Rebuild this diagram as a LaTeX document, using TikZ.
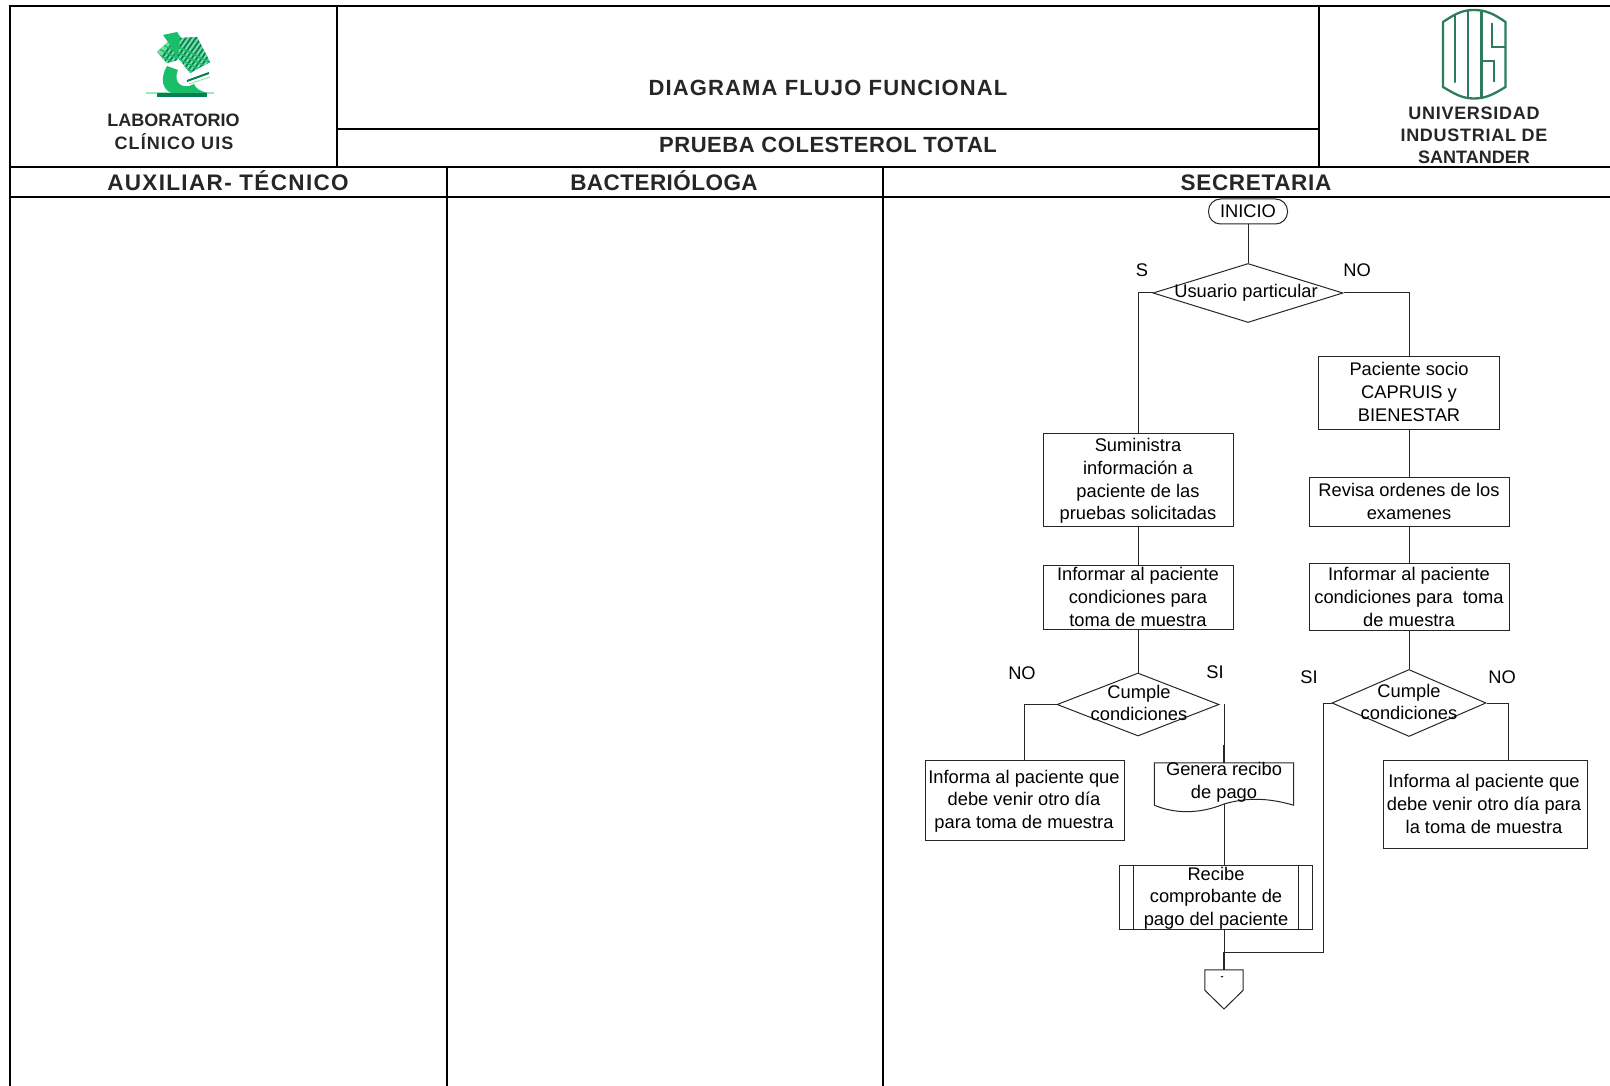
\documentclass[tikz,border=0pt]{standalone}
\usepackage{fontspec}
\setmainfont{Liberation Sans}
\usetikzlibrary{shapes.geometric}
\definecolor{uisgreen}{RGB}{46,125,90}
\definecolor{labdark}{RGB}{10,125,85}
\definecolor{labmid}{RGB}{25,190,105}
\definecolor{lablight}{RGB}{150,235,185}
\tikzset{
  frame/.style={line width=2pt,black},
  lane/.style={line width=1.6pt,black},
  flow/.style={line width=1pt,black!85},
  flowbox/.style={draw=black!85,line width=1pt,rectangle,inner sep=0pt},
  txt/.style={align=center,inner sep=0pt,font=\fontsize{18.3}{22.6}\selectfont,text=black},
  titletxt/.style={inner sep=0pt,anchor=base,font=\fontsize{22}{26}\selectfont\bfseries,text=black!85},
  lanetxt/.style={inner sep=0pt,anchor=base,font=\fontsize{22.5}{26}\selectfont\bfseries,text=black!85},
  smalltxt/.style={inner sep=0pt,anchor=base,align=center,font=\fontsize{18}{22}\selectfont\bfseries,text=black!85},
  decision/.style={diamond,draw=black!85,line width=1pt,inner sep=0pt,aspect=3},
}
\begin{document}
\begin{tikzpicture}[x=1pt,y=-1pt]
\useasboundingbox (0,0) rectangle (1610,1086);
% frame
\coordinate (tl) at (10,6); \coordinate (tr) at (1610,6);
\coordinate (hl) at (10,167); \coordinate (hr) at (1610,167);
\coordinate (ll) at (10,197); \coordinate (lr) at (1610,197);
\draw[frame] (10,1086) -- (tl) -- (tr);
\draw[frame] (hl) -- (hr);
\draw[frame] (ll) -- (lr);
\draw[frame] (337,6) -- (337,167);
\draw[frame] (1319,6) -- (1319,167);
\draw[frame] (337,129) -- (1319,129);
\draw[lane] (447,167) -- (447,1086);
\draw[lane] (883,167) -- (883,1086);
% titles
\node[titletxt] (t1) at (828,96) {\addfontfeature{LetterSpace=5.2}DIAGRAMA FLUJO FUNCIONAL};
\node[titletxt] (t2) at (828,153) {\addfontfeature{LetterSpace=2.5}PRUEBA COLESTEROL TOTAL};
\node[lanetxt] (l1) at (228,191) {\addfontfeature{LetterSpace=6}AUXILIAR- TÉCNICO};
\node[lanetxt] (l2) at (664,191) {\addfontfeature{LetterSpace=2}BACTERIÓLOGA};
\node[lanetxt] (l3) at (1256,191) {\addfontfeature{LetterSpace=3}SECRETARIA};
\node[smalltxt] (lab1) at (173.5,126.5) {LABORATORIO};
\node[smalltxt] (lab2) at (174,149.5) {\addfontfeature{LetterSpace=6}CLÍNICO UIS};
\node[smalltxt] (u1) at (1474,119.5) {\addfontfeature{LetterSpace=4}UNIVERSIDAD};
\node[smalltxt] (u2) at (1474,141.5) {\addfontfeature{LetterSpace=4}INDUSTRIAL DE};
\node[smalltxt] (u3) at (1474,163.5) {SANTANDER};
% microscope logo
\fill[lablight] (146,92) rectangle (214,94);
\fill[labdark] (157,93) rectangle (207,97);
\fill[labmid] (167,66) .. controls (160,78) and (162,90) .. (172,93)
  -- (208,93) .. controls (200,91) and (196,89) .. (194,84)
  .. controls (184,90) and (172,84) .. (178,70) -- cycle;
\fill[labmid] (163,35) -- (177,32) -- (181,38) -- (197,37) -- (210,62) -- (190,73) -- (178,58) -- (167,63) -- (157,52) -- (168,42) -- cycle;
\begin{scope}
\clip (157,52) -- (168,42) -- (178,60) -- (167,63) -- cycle
      (180,38) -- (197,37) -- (210,62) -- (190,73) -- (178,57) -- cycle;
\fill[lablight!70!labmid] (150,30) rectangle (215,80);
\foreach \k in {0,5,...,50}{
  \draw[labdark,line width=1.7pt] (150+\k,75) -- (185+\k,25);
}
\foreach \k in {0,6,...,54}{
  \draw[labmid,line width=1.5pt] (145,30+\k) -- (215,65+\k);
}
\end{scope}
\draw[labdark,line width=2pt] (187,81) -- (209,73);
\draw[lablight,line width=1pt] (189,84) -- (210,77);
% UIS logo
\begin{scope}[uisgreen,line width=2.3pt]
\draw (1443,22) .. controls (1455,14) and (1462,10) .. (1474,10) .. controls (1486,10) and (1494,14) .. (1505.5,22)
  -- (1505.5,87) .. controls (1494,94) and (1486,98.5) .. (1474,98.5) .. controls (1462,98.5) and (1455,94) .. (1443,87) -- cycle;
\draw[line cap=round] (1455,15) -- (1455,82);
\draw (1468,11) -- (1468,97.5);
\draw (1481.5,11) -- (1481.5,97.5);
\draw (1492,23) -- (1492,47) -- (1505,47);
\draw (1481.5,61) -- (1494,61) -- (1494,82);
\end{scope}
% flow shapes
\node[draw=black!85,line width=1pt,rectangle,rounded corners=12pt,minimum width=79pt,minimum height=25pt,inner sep=0pt,txt] (inicio) at (1248,211.5) {INICIO};
\node[decision,minimum width=190pt,minimum height=59pt] (dusr) at (1248,293) {};
\node[decision,minimum width=162pt,minimum height=63pt] (dl) at (1138,704.5) {};
\node[decision,minimum width=154pt,minimum height=67pt] (dr) at (1409,703) {};
\node[flowbox,minimum width=190pt,minimum height=93pt] (sum) at (1138,480) {};
\node[flowbox,minimum width=181pt,minimum height=73pt] (pac) at (1409,392.5) {};
\node[flowbox,minimum width=200pt,minimum height=49pt] (rev) at (1409,501.5) {};
\node[flowbox,minimum width=190pt,minimum height=64pt] (infl) at (1138,597) {};
\node[flowbox,minimum width=200pt,minimum height=67pt] (infr) at (1409,597) {};
\node[flowbox,minimum width=199pt,minimum height=80pt] (nol) at (1024.5,800.5) {};
\node[flowbox,minimum width=204pt,minimum height=88pt] (nor) at (1485,804.5) {};
\node[rectangle,inner sep=0pt,minimum width=139pt,minimum height=42pt] (gen) at (1224,784) {};
\draw[flow] (gen.south west) -- (gen.north west) -- (gen.north east) -- (gen.south east)
  .. controls (1265,797) and (1245,798) .. (1224,804)
  .. controls (1200,814) and (1175,814) .. (gen.south west);
\node[flowbox,minimum width=193pt,minimum height=64pt] (rec) at (1215.5,897) {};
\draw[flow] (1133,865) -- (1133,929) (1298,865) -- (1298,929);
\node[rectangle,inner sep=0pt,minimum width=38pt,minimum height=20pt] (off) at (1224,980) {};
\draw[flow] (off.north west) -- (off.north east) -- (off.south east) -- (1224,1009) -- (off.south west) -- cycle;
\node[inner sep=0pt,font=\fontsize{9}{9}\selectfont\bfseries] (offt) at (1222,978) {-};
% connector points
\coordinate (p1) at (dusr.west -| sum.north);
\coordinate (p2) at (dusr.east -| pac.north);
\coordinate (p3) at (dl.west -| nol.north);
\coordinate (p4) at (1224,704);
\coordinate (p5) at (1224,952);
\coordinate (p6) at (1323,952);
\coordinate (p7) at (1323,703);
\coordinate (p8) at (1508,703);
\coordinate (p9) at (1508,760.5);
% connectors
\draw[flow] (inicio.south) -- (dusr.north);
\draw[flow] (dusr.west) -- (p1) -- (sum.north);
\draw[flow] (dusr.east) -- (p2) -- (pac.north);
\draw[flow] (pac.south) -- (rev.north);
\draw[flow] (rev.south) -- (infr.north);
\draw[flow] (infr.south) -- (dr.north);
\draw[flow] (sum.south) -- (infl.north);
\draw[flow] (infl.south) -- (dl.north);
\draw[flow] (dl.west) -- (p3) -- (nol.north);
\draw[flow] (p4) -- (gen.north);
\draw[flow,line width=1.6pt] (1224,745) -- (gen.north);
\draw[flow] (1224,804) -- (1224,865);
\draw[flow] (1224,929) -- (off.north);
\draw[flow,line width=1.6pt] (p5) -- (off.north);
\draw[flow] (p5) -- (p6) -- (p7) -- (dr.west);
\draw[flow] (dr.east) -- (p8) -- (p9);
% flow labels
\node[txt] (x1) at (1246,293) {Usuario particular};
\node[txt] (x2) at (1409,392) {Paciente socio\\CAPRUIS y\\BIENESTAR};
\node[txt] (x3) at (1138,481) {Suministra\\información a\\paciente de las\\pruebas solicitadas};
\node[txt] (x4) at (1409,501.5) {Revisa ordenes de los\\examenes};
\node[txt] (x5) at (1138,597) {Informar al paciente\\condiciones para\\toma de muestra};
\node[txt] (x6) at (1409,597) {Informar al paciente\\condiciones para\ \ toma\\de muestra};
\node[txt] (x7) at (1139,703) {Cumple\\condiciones};
\node[txt] (x8) at (1409,702) {Cumple\\condiciones};
\node[txt] (x9) at (1024,801) {Informa al paciente que\\debe venir otro día\\para toma de muestra};
\node[txt] (x10) at (1484,804) {Informa al paciente que\\debe venir otro día para\\la toma de muestra};
\node[txt] (x11) at (1224,782) {Genera recibo\\de pago};
\node[txt] (x12) at (1216,898) {Recibe\\comprobante de\\pago del paciente};
\node[txt] (y1) at (1142,270) {S};
\node[txt] (y2) at (1357,270) {NO};
\node[txt] (y3) at (1022,673) {NO};
\node[txt] (y4) at (1215,672) {SI};
\node[txt] (y5) at (1309,677) {SI};
\node[txt] (y6) at (1502,677) {NO};
\end{tikzpicture}
\end{document}
